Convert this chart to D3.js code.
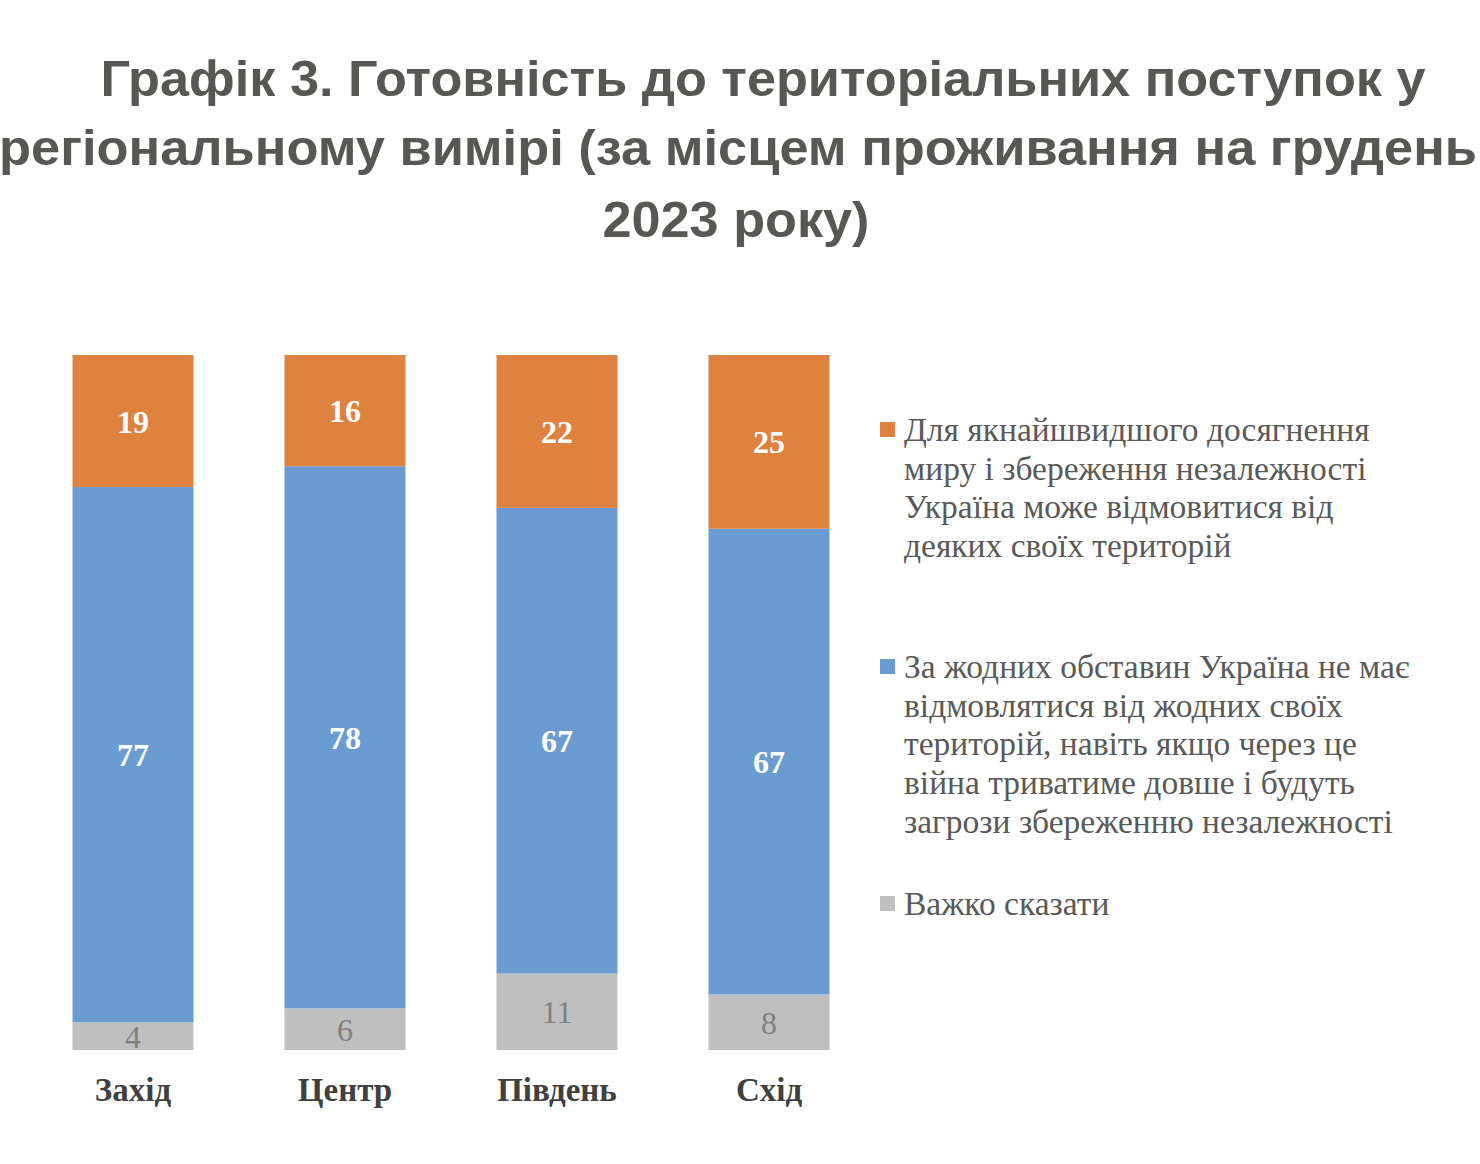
<!DOCTYPE html>
<html><head><meta charset="utf-8">
<script src="https://cdn.jsdelivr.net/npm/d3@7"></script>
<style>html,body{margin:0;padding:0;background:#fff;overflow:hidden}</style>
</head><body>
<svg id="chart" width="1480" height="1164"></svg>
<script>
const titleLines = ["Графік 3. Готовність до територіальних поступок у",
  "регіональному вимірі (за місцем проживання на грудень",
  "2023 року)"];
const categories = ["Захід", "Центр", "Південь", "Схід"];
const seriesNames = ["Важко сказати",
  "За жодних обставин Україна не має відмовлятися від жодних своїх територій, навіть якщо через це війна триватиме довше і будуть загрози збереженню незалежності",
  "Для якнайшвидшого досягнення миру і збереження незалежності Україна може відмовитися від деяких своїх територій"];
const hardToSay = [4, 6, 11, 8];
const noConcession = [77, 78, 67, 67];
const concession = [19, 16, 22, 25];
const legendLines = [
  ["Для якнайшвидшого досягнення", "миру і збереження незалежності", "Україна може відмовитися від", "деяких своїх територій"],
  ["За жодних обставин Україна не має", "відмовлятися від жодних своїх", "територій, навіть якщо через це", "війна триватиме довше і будуть", "загрози збереженню незалежності"],
  ["Важко сказати"]
];
const colors = ["#BFBFBF", "#6A9BD1", "#E0823F"];
const labelColors = ["#7F7F7F", "#FFFFFF", "#FFFFFF"];

const svg = d3.select("#chart");

// Title
const titleSpec = [{cx: 763, y: 96, w: 1325}, {cx: 738, y: 165, w: 1478}, {cx: 736, y: 237, w: 267}];
titleLines.forEach((t, i) => {
  svg.append("text").text(t)
    .attr("x", titleSpec[i].cx).attr("y", titleSpec[i].y)
    .attr("text-anchor", "middle")
    .attr("font-family", "'Liberation Sans', Arial, sans-serif")
    .attr("font-weight", "bold").attr("font-size", 50)
    .attr("fill", "#575754")
    .attr("textLength", titleSpec[i].w).attr("lengthAdjust", "spacingAndGlyphs");
});

const data = categories.map((c, i) => ({cat: c, s0: hardToSay[i], s1: noConcession[i], s2: concession[i]}));
const stack = d3.stack().keys(["s0", "s1", "s2"]);
const series = stack(data);

const x = d3.scaleBand().domain(categories).range([27, 875]).paddingInner(0.4292).paddingOuter(0.2146);
const y = d3.scaleLinear().domain([0, 100]).range([1050, 355]);

const g = svg.append("g");
series.forEach((s, si) => {
  g.selectAll(null).data(s).enter().append("rect")
    .attr("x", d => x(d.data.cat))
    .attr("y", d => y(d[1]))
    .attr("width", x.bandwidth())
    .attr("height", d => y(d[0]) - y(d[1]))
    .attr("fill", colors[si]);
  g.selectAll(null).data(s).enter().append("text")
    .text(d => d[1] - d[0])
    .attr("x", d => x(d.data.cat) + x.bandwidth() / 2)
    .attr("y", d => (y(d[0]) + y(d[1])) / 2)
    .attr("dy", "0.36em")
    .attr("text-anchor", "middle")
    .attr("font-family", "'Liberation Serif', 'Times New Roman', serif")
    .attr("font-weight", si === 0 ? "normal" : "bold")
    .attr("font-size", 32)
    .attr("fill", labelColors[si]);
});

// Category axis
const xAxis = d3.axisBottom(x).tickSize(0).tickPadding(0);
const ax = svg.append("g").attr("transform", "translate(0,1050)").call(xAxis);
ax.select(".domain").remove();
ax.selectAll("text")
  .attr("y", 51).attr("dy", 0)
  .attr("font-family", "'Liberation Serif', 'Times New Roman', serif")
  .attr("font-weight", "bold").attr("font-size", 33)
  .attr("fill", "#404040");

// Legend
const legendOrder = [2, 1, 0];
const legendTop = [441, 678, 915];
const lineH = 38.7;
legendOrder.forEach((si, li) => {
  const lg = svg.append("g");
  lg.append("rect").attr("x", 880).attr("y", legendTop[li] - 19).attr("width", 15).attr("height", 15).attr("fill", colors[si]);
  legendLines[li].forEach((t, k) => {
    lg.append("text").text(t)
      .attr("x", 904).attr("y", legendTop[li] + k * lineH)
      .attr("font-family", "'Liberation Serif', 'Times New Roman', serif")
      .attr("font-size", 33.5)
      .attr("fill", "#595959");
  });
});
</script>
</body></html>
